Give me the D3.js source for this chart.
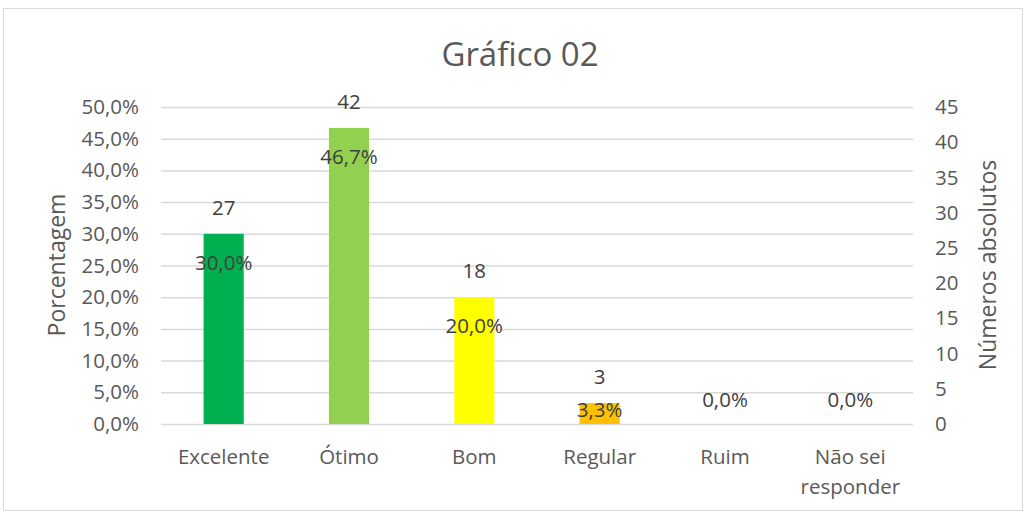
<!DOCTYPE html>
<html>
<head>
<meta charset="utf-8">
<script src="https://cdn.jsdelivr.net/npm/d3@7"></script>
<style>
  body { margin: 0; background: #fff; }
  text { font-family: "Open Sans", "Noto Sans", sans-serif; }
</style>
</head>
<body>
<div id="chart"></div>
<script>
// Data
const categories = ["Excelente", "Ótimo", "Bom", "Regular", "Ruim", "Não sei responder"];
const percentages = [30.0, 46.7, 20.0, 3.3, 0.0, 0.0];
const counts = [27, 42, 18, 3, 0, 0];
const barColors = ["#00B050", "#92D050", "#FFFF00", "#FFC000", "#A5A5A5", "#A5A5A5"];
const leftTicks = [0, 5, 10, 15, 20, 25, 30, 35, 40, 45, 50];
const rightTicks = [0, 5, 10, 15, 20, 25, 30, 35, 40, 45];

const W = 1025, H = 512;
const plot = {left: 161, right: 913, top: 107, bottom: 424};

const ptBR = d3.formatLocale({decimal: ",", thousands: ".", grouping: [3], currency: ["R$", ""]});
const fmtPct = v => ptBR.format(".1f")(v) + "%";

const svg = d3.select("#chart")
    .append("svg")
    .attr("width", W)
    .attr("height", H);

// Chart border
svg.append("rect")
    .attr("x", 3.5).attr("y", 8.5)
    .attr("width", W - 6).attr("height", H - 10)
    .attr("fill", "#fff")
    .attr("stroke", "#d9d9d9");

// Scales
const x = d3.scaleBand()
    .domain(categories)
    .range([plot.left, plot.right])
    .paddingInner(0.68)
    .paddingOuter(0.34);
const yPct = d3.scaleLinear().domain([0, 50]).range([plot.bottom, plot.top]);
const yAbs = d3.scaleLinear().domain([0, 45]).range([plot.bottom, plot.top]);

// Gridlines + left axis
const leftAxis = svg.append("g")
    .attr("transform", "translate(" + plot.left + ",0)")
    .call(d3.axisLeft(yPct).tickValues(leftTicks).tickSize(-(plot.right - plot.left)).tickPadding(22)
        .tickFormat(d => fmtPct(d)));
leftAxis.select(".domain").remove();
leftAxis.selectAll(".tick line").attr("stroke", "#d9d9d9").attr("stroke-width", 1.5);
leftAxis.selectAll(".tick text").attr("fill", "#595959").style("font-size", "20.5px");

// Right axis
const rightAxis = svg.append("g")
    .attr("transform", "translate(" + plot.right + ",0)")
    .call(d3.axisRight(yAbs).tickValues(rightTicks).tickSize(0).tickPadding(22));
rightAxis.select(".domain").remove();
rightAxis.selectAll(".tick text").attr("fill", "#595959").style("font-size", "20.5px");

// Bars
svg.selectAll(".bar")
    .data(categories)
    .enter().append("rect")
    .attr("class", "bar")
    .attr("x", d => x(d))
    .attr("width", x.bandwidth())
    .attr("y", (d, i) => yPct(percentages[i]))
    .attr("height", (d, i) => yPct(0) - yPct(percentages[i]))
    .attr("fill", (d, i) => barColors[i]);

// Count labels (above bar)
svg.selectAll(".count")
    .data(categories.filter((d, i) => counts[i] > 0))
    .enter().append("text")
    .attr("class", "count")
    .attr("x", d => x(d) + x.bandwidth() / 2)
    .attr("y", d => yAbs(counts[categories.indexOf(d)]) - 26)
    .attr("dy", "0.35em")
    .attr("text-anchor", "middle")
    .attr("fill", "#404040")
    .style("font-size", "20.5px")
    .text(d => counts[categories.indexOf(d)]);

// Percentage labels (inside end)
svg.selectAll(".pct")
    .data(categories)
    .enter().append("text")
    .attr("class", "pct")
    .attr("x", d => x(d) + x.bandwidth() / 2)
    .attr("y", (d, i) => percentages[i] === 0 ? plot.bottom - 24 : Math.min(yPct(percentages[i]) + 29, plot.bottom - 14))
    .attr("dy", "0.35em")
    .attr("text-anchor", "middle")
    .attr("fill", "#404040")
    .style("font-size", "20.5px")
    .text((d, i) => fmtPct(percentages[i]));

// Category labels
const catLabels = svg.selectAll(".cat")
    .data(categories)
    .enter().append("text")
    .attr("class", "cat")
    .attr("x", d => x(d) + x.bandwidth() / 2)
    .attr("y", 457)
    .attr("text-anchor", "middle")
    .attr("fill", "#595959")
    .style("font-size", "20.5px");
catLabels.each(function(d) {
    const lines = d === "Não sei responder" ? ["Não sei", "responder"] : [d];
    const t = d3.select(this);
    lines.forEach((l, i) => {
        t.append("tspan")
            .attr("x", x(d) + x.bandwidth() / 2)
            .attr("dy", i === 0 ? "0.35em" : "1.45em")
            .text(l);
    });
});

// Title
svg.append("text")
    .attr("x", 520)
    .attr("y", 54)
    .attr("dy", "0.35em")
    .attr("text-anchor", "middle")
    .attr("fill", "#595959")
    .style("font-size", "33px")
    .text("Gráfico 02");

// Axis titles
svg.append("text")
    .attr("transform", "translate(57,265) rotate(-90)")
    .attr("dy", "0.35em")
    .attr("text-anchor", "middle")
    .attr("fill", "#595959")
    .style("font-size", "23px")
    .text("Porcentagem");

svg.append("text")
    .attr("transform", "translate(988,265) rotate(-90)")
    .attr("dy", "0.35em")
    .attr("text-anchor", "middle")
    .attr("fill", "#595959")
    .style("font-size", "23px")
    .text("Números absolutos");
</script>
</body>
</html>
